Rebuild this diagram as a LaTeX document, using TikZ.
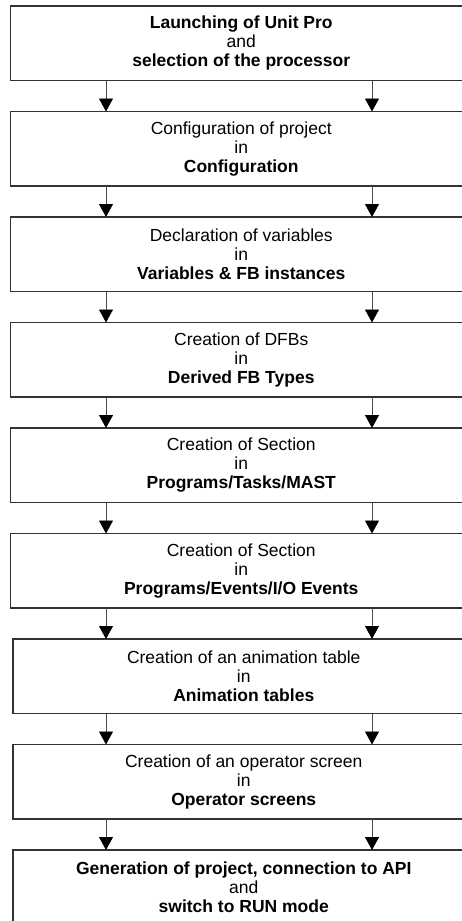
\documentclass[tikz,border=0pt]{standalone}
\usepackage{fontspec}
\setmainfont{Liberation Sans}
\usetikzlibrary{arrows.meta, positioning}

\begin{document}
\begin{tikzpicture}[
    node distance=31pt,
    stp/.style={draw=black!80, line width=1.2pt, minimum width=461.5pt, minimum height=74.5pt, align=center, inner sep=0pt, outer sep=0pt, font=\fontsize{17.5}{19}\selectfont},
    arr/.style={-{Triangle[length=13pt, width=14pt, color=black]}, line width=0.9pt, black!70},
]
    \useasboundingbox (0,0) rectangle (462pt,-921pt);
    \clip (0,0) rectangle (462pt,-921pt);
    \coordinate (xl) at (106pt,0);
    \coordinate (xr) at (372pt,0);

    \node[stp] (s1) at (241.25pt,-43.25pt) {\textbf{Launching of Unit Pro}\\and\\\textbf{selection of the processor}};
    \node[stp, below=of s1] (s2) {Configuration of project\\in\\\textbf{Configuration}};
    \node[stp, below=of s2] (s3) {Declaration of variables\\in\\\textbf{Variables \& FB instances}};
    \node[stp, below=of s3] (s4) {Creation of DFBs\\in\\\textbf{Derived FB Types}};
    \node[stp, below=of s4] (s5) {Creation of Section\\in\\\textbf{Programs/Tasks/MAST}};
    \node[stp, below=of s5] (s6) {Creation of Section\\in\\\textbf{Programs/Events/I/O Events}};
    \node[stp, below=of s6, xshift=2.5pt] (s7) {Creation of an animation table\\in\\\textbf{Animation tables}};
    \node[stp, below=of s7] (s8) {Creation of an operator screen\\in\\\textbf{Operator screens}};
    \node[stp, below=of s8] (s9) {\textbf{Generation of project, connection to API}\\and\\\textbf{switch to RUN mode}};

    % two arrows between each pair of steps
    \draw[arr] (s1.south -| xl) -- (s2.north -| xl);
    \draw[arr] (s1.south -| xr) -- (s2.north -| xr);
    \draw[arr] (s2.south -| xl) -- (s3.north -| xl);
    \draw[arr] (s2.south -| xr) -- (s3.north -| xr);
    \draw[arr] (s3.south -| xl) -- (s4.north -| xl);
    \draw[arr] (s3.south -| xr) -- (s4.north -| xr);
    \draw[arr] (s4.south -| xl) -- (s5.north -| xl);
    \draw[arr] (s4.south -| xr) -- (s5.north -| xr);
    \draw[arr] (s5.south -| xl) -- (s6.north -| xl);
    \draw[arr] (s5.south -| xr) -- (s6.north -| xr);
    \draw[arr] (s6.south -| xl) -- (s7.north -| xl);
    \draw[arr] (s6.south -| xr) -- (s7.north -| xr);
    \draw[arr] (s7.south -| xl) -- (s8.north -| xl);
    \draw[arr] (s7.south -| xr) -- (s8.north -| xr);
    \draw[arr] (s8.south -| xl) -- (s9.north -| xl);
    \draw[arr] (s8.south -| xr) -- (s9.north -| xr);
\end{tikzpicture}
\end{document}
